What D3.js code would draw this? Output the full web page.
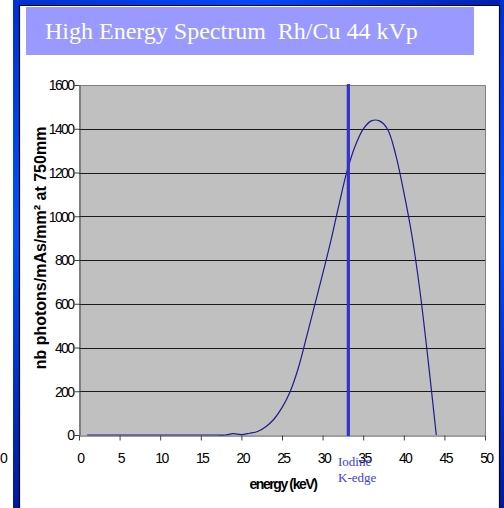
<!DOCTYPE html>
<html>
<head>
<meta charset="utf-8">
<script src="https://cdn.jsdelivr.net/npm/d3@7"></script>
<style>
  html, body { margin: 0; padding: 0; background: #fff; }
  svg { display: block; }
  .tick text { font-family: "Liberation Sans", Arial, sans-serif; font-size: 14px; letter-spacing: -1.6px; fill: #000; }
</style>
</head>
<body>
<script>
// Photon spectrum, Rh anode / Cu filter at 44 kVp (photons per mAs per mm² at 750 mm)
const energyKeV = [1, 2, 3, 4, 5, 6, 7, 8, 9, 10, 11, 12, 13, 14, 15, 16, 17, 18, 19, 20, 21, 22,
                   23, 24, 25, 26, 27, 28, 29, 30, 31, 32, 33, 34, 35, 36, 37, 38, 39, 40, 41, 42, 43, 44];
const photons   = [0, 0, 0, 0, 0, 0, 0, 0, 0, 0, 0, 0, 0, 0, 0, 0, 0, 0, 6, 2, 8, 16,
                   38, 72, 125, 198, 305, 445, 590, 735, 885, 1050, 1205, 1320, 1398, 1436, 1436, 1398, 1282, 1110, 912, 655, 340, 0];

const xTicks = [0, 5, 10, 15, 20, 25, 30, 35, 40, 45, 50];
const yTicks = [0, 200, 400, 600, 800, 1000, 1200, 1400, 1600];
const gridValues = [200, 400, 600, 800, 1000, 1200, 1400];

const iodineKEdge = 33.17;
const titleText = "High Energy Spectrum  Rh/Cu 44 kVp";
const xTitle = "energy (keV)";
const yTitle = "nb photons/mAs/mm² at 750mm";
const edgeLabel = ["Iodine", "K-edge"];

const W = 504, H = 508;
const svg = d3.select("body").append("svg").attr("width", W).attr("height", H);

// slide frame
const defs = svg.append("defs");
const gv = defs.append("linearGradient").attr("id", "frameV").attr("x1", 0).attr("y1", 0).attr("x2", 0).attr("y2", 1);
gv.append("stop").attr("offset", "0%").attr("stop-color", "#0030d0");
gv.append("stop").attr("offset", "45%").attr("stop-color", "#0050ff");
gv.append("stop").attr("offset", "100%").attr("stop-color", "#0018a0");
const gh = defs.append("linearGradient").attr("id", "frameH").attr("x1", 0).attr("y1", 0).attr("x2", 1).attr("y2", 0);
gh.append("stop").attr("offset", "0%").attr("stop-color", "#0030d0");
gh.append("stop").attr("offset", "50%").attr("stop-color", "#0048ff");
gh.append("stop").attr("offset", "100%").attr("stop-color", "#0020b0");

svg.append("rect").attr("x", 0).attr("y", 0).attr("width", W).attr("height", H).attr("fill", "#fff");
svg.append("rect").attr("x", 13).attr("y", 0).attr("width", W - 13).attr("height", 5).attr("fill", "url(#frameH)");
svg.append("rect").attr("x", 13).attr("y", 0).attr("width", 6).attr("height", H).attr("fill", "url(#frameV)");
svg.append("rect").attr("x", 500).attr("y", 0).attr("width", 4).attr("height", H).attr("fill", "url(#frameV)");
svg.append("line").attr("x1", 19.5).attr("x2", 19.5).attr("y1", 5).attr("y2", H).attr("stroke", "#000010").attr("stroke-width", 1.2);
svg.append("line").attr("x1", 499.5).attr("x2", 499.5).attr("y1", 5).attr("y2", H).attr("stroke", "#000010").attr("stroke-width", 1.2);
svg.append("line").attr("x1", 19).attr("x2", 500).attr("y1", 5.5).attr("y2", 5.5).attr("stroke", "#000010").attr("stroke-width", 1.2);

// title banner
svg.append("rect").attr("x", 26).attr("y", 7).attr("width", 448).attr("height", 48).attr("fill", "#9999ff");
svg.append("text")
  .attr("x", 45).attr("y", 39)
  .attr("font-family", "'Liberation Serif', 'Times New Roman', serif")
  .attr("font-size", 24)
  .attr("fill", "#ffffff")
  .style("white-space", "pre")
  .text(titleText);

// chart
const plot = { left: 79, right: 485, top: 85, bottom: 435 };
const x = d3.scaleLinear().domain([0, 50]).range([plot.left, plot.right]);
const y = d3.scaleLinear().domain([0, 1600]).range([plot.bottom, plot.top]);

svg.append("rect")
  .attr("x", plot.left).attr("y", plot.top)
  .attr("width", plot.right - plot.left).attr("height", plot.bottom - plot.top)
  .attr("fill", "#c0c0c0");

svg.append("g").selectAll("line").data(gridValues).join("line")
  .attr("x1", plot.left).attr("x2", plot.right)
  .attr("y1", d => Math.round(y(d)) + 0.5).attr("y2", d => Math.round(y(d)) + 0.5)
  .attr("stroke", "#1a1a1a").attr("stroke-width", 1);

// frame top / right
svg.append("path")
  .attr("d", `M${plot.left},${plot.top + 0.5}H${plot.right + 0.5}V${plot.bottom}`)
  .attr("fill", "none").attr("stroke", "#808080").attr("stroke-width", 1);

// spectrum curve
const line = d3.line()
  .x((d, i) => x(energyKeV[i]))
  .y(d => y(d))
  .curve(d3.curveCatmullRom.alpha(0.5));
svg.append("path")
  .datum(photons)
  .attr("d", line)
  .attr("fill", "none")
  .attr("stroke", "#1c1c90")
  .attr("stroke-width", 1.2);

// axes
const fmt = d3.format("d");
const xAxis = svg.append("g")
  .attr("transform", `translate(0,${plot.bottom + 0.5})`)
  .call(d3.axisBottom(x).tickValues(xTicks).tickFormat(fmt).tickSize(5).tickPadding(13).tickSizeOuter(0));
const yAxis = svg.append("g")
  .attr("transform", `translate(${plot.left + 0.5},0)`)
  .call(d3.axisLeft(y).tickValues(yTicks).tickFormat(fmt).tickSize(5).tickPadding(1).tickSizeOuter(0));
[xAxis, yAxis].forEach(a => {
  a.select(".domain").attr("stroke", "#404040");
  a.selectAll(".tick line").attr("stroke", "#404040");
});
xAxis.selectAll(".tick text").attr("dx", "0.8px");
yAxis.selectAll(".tick text").attr("dy", "0.35em");

// iodine K-edge marker
svg.append("line")
  .attr("x1", x(iodineKEdge)).attr("x2", x(iodineKEdge))
  .attr("y1", plot.top - 1).attr("y2", plot.bottom + 1)
  .attr("stroke", "#3333cc").attr("stroke-width", 3.2);
svg.append("g").selectAll("text").data(edgeLabel).join("text")
  .attr("x", 338).attr("y", (d, i) => 466 + i * 16)
  .attr("font-family", "'Liberation Serif', 'Times New Roman', serif")
  .attr("font-size", 13)
  .attr("fill", "#4040dd")
  .text(d => d);

// axis titles
svg.append("text")
  .attr("x", 283).attr("y", 489)
  .attr("text-anchor", "middle")
  .attr("font-family", "'Liberation Sans', Arial, sans-serif")
  .attr("font-weight", "bold")
  .attr("font-size", 14)
  .attr("letter-spacing", "-1.4px")
  .text(xTitle);
svg.append("text")
  .attr("transform", "translate(46,248) rotate(-90)")
  .attr("text-anchor", "middle")
  .attr("font-family", "'Liberation Sans', Arial, sans-serif")
  .attr("font-weight", "bold")
  .attr("font-size", 16)
  .text(yTitle);

// stray tick label at the left margin
svg.append("text")
  .attr("x", 0).attr("y", 463)
  .attr("font-family", "'Liberation Sans', Arial, sans-serif")
  .attr("font-size", 14)
  .text("0");
</script>
</body>
</html>
